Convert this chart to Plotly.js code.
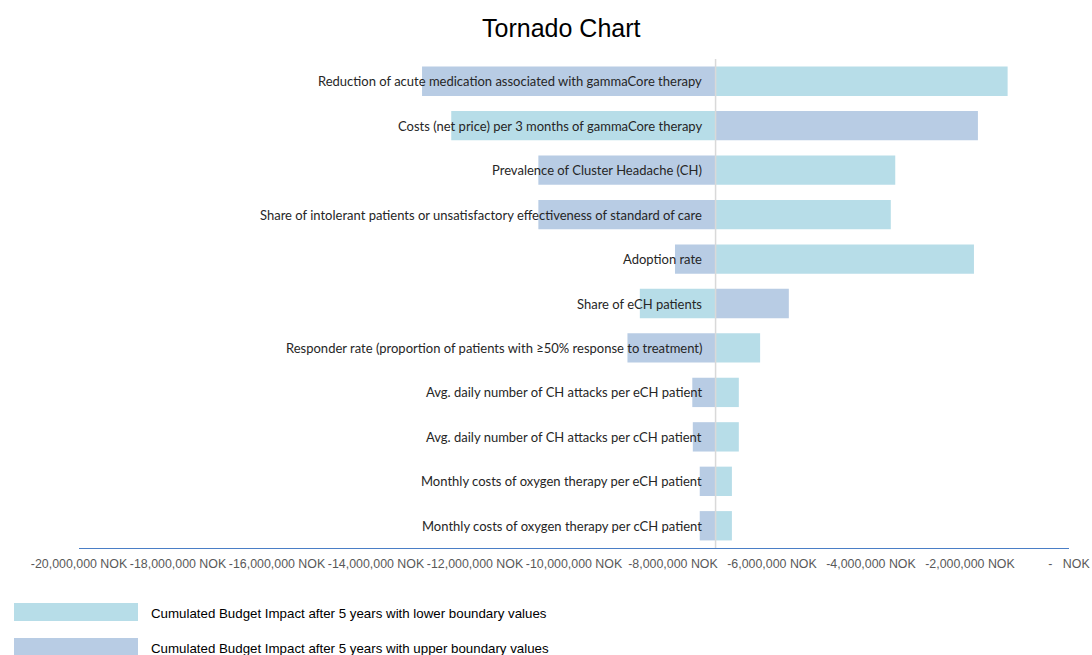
<!DOCTYPE html>
<html>
<head>
<meta charset="utf-8">
<script src="https://cdn.plot.ly/plotly-3.0.1.min.js"></script>
<style>html,body{margin:0;padding:0;background:#fff;}#chart{width:1092px;height:655px;}</style>
</head>
<body>
<div id="chart"></div>
<script>
// ---- data ----
const categories = [
  "Reduction of acute medication associated with gammaCore therapy",
  "Costs (net price) per 3 months of gammaCore therapy",
  "Prevalence of Cluster Headache (CH)",
  "Share of intolerant patients or unsatisfactory effectiveness of standard of care",
  "Adoption rate",
  "Share of eCH patients",
  "Responder rate (proportion of patients with \u226550% response to treatment)",
  "Avg. daily number of CH attacks per eCH patient",
  "Avg. daily number of CH attacks per cCH patient",
  "Monthly costs of oxygen therapy per eCH patient",
  "Monthly costs of oxygen therapy per cCH patient"
];
const baseCase = -7140000;
const lowerValues = [-1240000, -12480000, -3510000, -3600000, -1920000, -8670000, -6240000, -6670000, -6670000, -6810000, -6810000];
const upperValues = [-13070000, -1840000, -10720000, -10720000, -7960000, -5660000, -8920000, -7610000, -7600000, -7460000, -7460000];
const tickValues = [-20000000, -18000000, -16000000, -14000000, -12000000, -10000000, -8000000, -6000000, -4000000, -2000000, 0];
const tickLabels = ["-20,000,000 NOK", "-18,000,000 NOK", "-16,000,000 NOK", "-14,000,000 NOK", "-12,000,000 NOK", "-10,000,000 NOK", "-8,000,000 NOK", "-6,000,000 NOK", "-4,000,000 NOK", "-2,000,000 NOK", "-\u00a0\u00a0\u00a0NOK"];
const seriesNames = ["Cumulated Budget Impact after 5 years with lower boundary values", "Cumulated Budget Impact after 5 years with upper boundary values"];

// ---- style ----
const colLower = "#B7DDE8";
const colUpper = "#B8CCE4";
const W = 1092, H = 655;
const M = {l: 79, r: 23, t: 59, b: 107};
const pw = W - M.l - M.r, ph = H - M.t - M.b;
const px2x = p => (p - M.l) / pw;
const py2y = p => (H - M.b - p) / ph;
const arial = "Liberation Sans, Arial, sans-serif";

const traces = [
  {
    type: "bar", orientation: "h", name: seriesNames[1],
    y: categories, base: categories.map(() => baseCase),
    x: upperValues.map(v => v - baseCase),
    marker: {color: colUpper}, hoverinfo: "skip", showlegend: false
  },
  {
    type: "bar", orientation: "h", name: seriesNames[0],
    y: categories, base: categories.map(() => baseCase),
    x: lowerValues.map(v => v - baseCase),
    marker: {color: colLower}, hoverinfo: "skip", showlegend: false
  }
];

const annotations = categories.map(c => ({
  x: baseCase, y: c, xref: "x", yref: "y", text: c, showarrow: false,
  xanchor: "right", xshift: -12, yanchor: "middle",
  font: {family: "Lato, Open Sans, sans-serif", size: 13, color: "#262626"}
}));
const shapes = [
  {type: "line", xref: "x", yref: "paper", x0: baseCase, x1: baseCase, y0: 0, y1: 1,
   line: {color: "#D9D9D9", width: 1.5}, layer: "above"}
];
const legendCols = [colLower, colUpper];
const legendY = [612, 647];
seriesNames.forEach((n, i) => {
  shapes.push({type: "rect", xref: "paper", yref: "paper",
    x0: px2x(14), x1: px2x(138), y0: py2y(legendY[i] - 9), y1: py2y(legendY[i] + 9),
    fillcolor: legendCols[i], line: {width: 0}});
  annotations.push({xref: "paper", yref: "paper", x: px2x(149), y: py2y(legendY[i] + 1),
    xanchor: "left", yanchor: "middle", showarrow: false, text: n,
    font: {family: arial, size: 13.3, color: "#000"}});
});

const layout = {
  width: W, height: H, margin: M,
  paper_bgcolor: "#fff", plot_bgcolor: "#fff",
  title: {text: "Tornado Chart", x: 0.514, xref: "container", xanchor: "center",
    y: 1 - 28 / H, yref: "container", yanchor: "middle",
    font: {family: arial, size: 25, color: "#000"}},
  barmode: "overlay", bargap: 0.34,
  xaxis: {range: [-20000000, 0], tickvals: tickValues, ticktext: tickLabels,
    showgrid: false, zeroline: false, showline: true, linecolor: "#4A7EC6", linewidth: 1.3,
    ticks: "", tickangle: 0, ticklabelstandoff: 4,
    tickfont: {family: arial, size: 12.4, color: "#595959"},
    fixedrange: true},
  yaxis: {type: "category", categoryorder: "array", categoryarray: categories,
    autorange: "reversed", showticklabels: false, showgrid: false, zeroline: false,
    showline: false, ticks: "", fixedrange: true},
  showlegend: false,
  annotations: annotations, shapes: shapes
};

Plotly.newPlot("chart", traces, layout, {staticPlot: true, displayModeBar: false});
</script>
</body>
</html>
